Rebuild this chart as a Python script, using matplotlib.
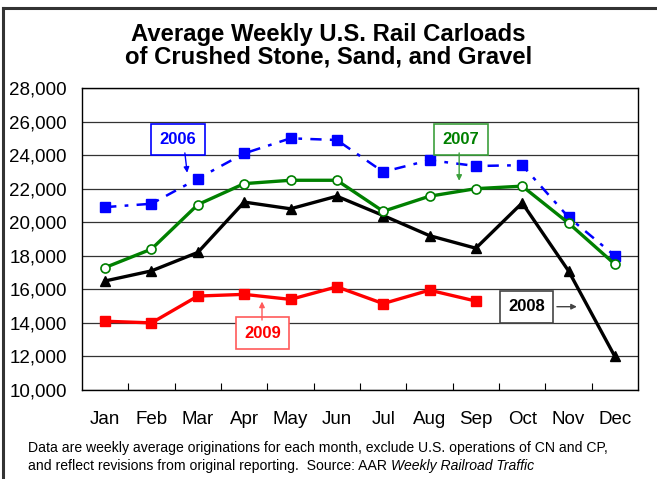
import matplotlib.pyplot as plt
import numpy as np

months = ['Jan', 'Feb', 'Mar', 'Apr', 'May', 'Jun', 'Jul', 'Aug', 'Sep', 'Oct', 'Nov', 'Dec']
loads_2006 = [20900, 21100, 22600, 24100, 25000, 24900, 23000, 23700, 23350, 23400, 20300, 18000]
loads_2007 = [17300, 18400, 21050, 22300, 22500, 22500, 20650, 21550, 22000, 22150, 19950, 17500]
loads_2008 = [16500, 17100, 18200, 21200, 20800, 21550, 20400, 19200, 18450, 21150, 17100, 12000]
loads_2009 = [14100, 14000, 15600, 15700, 15400, 16150, 15150, 15950, 15300]

plt.rcParams['font.family'] = ['Liberation Sans', 'DejaVu Sans']

fig = plt.figure(figsize=(6.57, 4.79), dpi=100)
ax = fig.add_axes([0.1248, 0.1858, 0.9711 - 0.1248, 0.8163 - 0.1858])

x = np.arange(len(months))

ax.plot(x, loads_2006, color='#0000FF', lw=1.8, dashes=(4.5, 3.3, 1.5, 3.3),
        marker='s', ms=7, mec='#0000FF', mfc='#0000FF', zorder=3)
ax.plot(x, loads_2007, color='#008000', lw=2.4, marker='o', ms=6.5,
        mec='#008000', mfc='white', mew=1.2, zorder=4)
ax.plot(x, loads_2008, color='black', lw=2.4, marker='^', ms=6.5,
        mec='black', mfc='black', zorder=3)
ax.plot(x[:len(loads_2009)], loads_2009, color='#FF0000', lw=2.4, marker='s',
        ms=7, mec='#FF0000', mfc='#FF0000', zorder=3)

ax.set_xlim(-0.5, 11.5)
ax.set_ylim(10000, 28000)
ax.set_yticks(np.arange(10000, 28001, 2000))
ax.yaxis.set_major_formatter(plt.FuncFormatter(lambda v, p: f'{int(v):,}'))
ax.grid(axis='y', color='#333333', lw=0.9)
ax.set_axisbelow(True)

# month labels centred in each slot, tick marks on slot boundaries
ax.set_xticks(x)
ax.set_xticklabels(months)
ax.set_xticks(np.arange(0.5, 11.5, 1), minor=True)
ax.tick_params(axis='x', which='major', length=0, pad=15, labelsize=13.5)
ax.tick_params(axis='x', which='minor', direction='in', length=5, width=0.8)
ax.tick_params(axis='y', length=0, pad=11, labelsize=13.5)
for s in ax.spines.values():
    s.set_color('black')
    s.set_linewidth(1.0)

# year call-out boxes
def callout(label, color, edge, box_xy, tip_xy, tail_xy):
    ax.text(box_xy[0], box_xy[1], label, color=color, fontsize=12, fontweight='bold',
            ha='center', va='center', zorder=6,
            bbox=dict(boxstyle='square,pad=0.5', fc='white', ec=edge, lw=1.2))
    ax.annotate('', xy=tip_xy, xytext=tail_xy, zorder=6,
                arrowprops=dict(arrowstyle='-|>', color=edge, lw=1.0,
                                mutation_scale=8, shrinkA=0, shrinkB=0))

callout('2006', '#0000FF', '#0000FF', (1.57, 24935), (1.77, 22950), (1.72, 24130))
callout('2007', '#008000', '#3CA03C', (7.68, 24935), (7.64, 22470), (7.64, 24130))
callout('2009', '#FF0000', '#FF5A5A', (3.40, 13390), (3.385, 15270), (3.385, 14170))
callout('2008', 'black', '#444444', (9.09, 14965), (10.18, 14965), (9.75, 14965))

fig.text(0.5, 0.929, 'Average Weekly U.S. Rail Carloads', ha='center', va='center',
         fontsize=17.2, fontweight='bold')
fig.text(0.5, 0.880, 'of Crushed Stone, Sand, and Gravel', ha='center', va='center',
         fontsize=17.2, fontweight='bold')

fig.text(0.043, 0.064, 'Data are weekly average originations for each month, exclude U.S. operations of CN and CP,',
         ha='left', va='center', fontsize=10.1)
fig.text(0.043, 0.027, 'and reflect revisions from original reporting.  Source: AAR ',
         ha='left', va='center', fontsize=10.1)
src = fig.texts[-1]
fig.canvas.draw()
bb = src.get_window_extent()
fig.text(bb.x1 / fig.bbox.width, 0.027, 'Weekly Railroad Traffic', ha='left', va='center',
         fontsize=10.1, style='italic')

# outer frame of the figure (left and top edges visible)
fig.add_artist(plt.Line2D([0.0045, 0.0045], [0, 0.983], color='#333333', lw=2.2,
                          transform=fig.transFigure))
fig.add_artist(plt.Line2D([0.0045, 1.0], [0.983, 0.983], color='#333333', lw=2.2,
                          transform=fig.transFigure))

fig.savefig('out.png', dpi=100)
